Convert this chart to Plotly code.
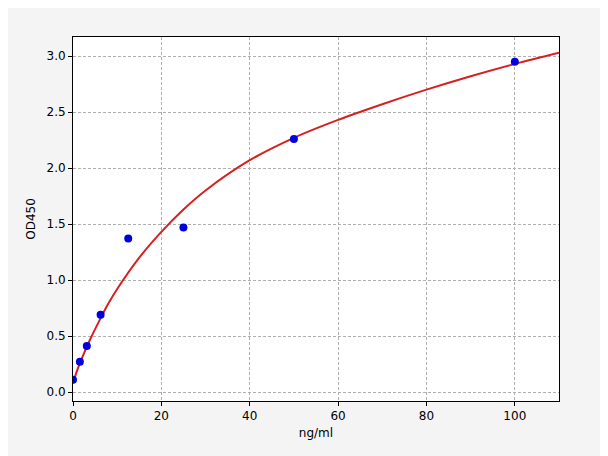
import plotly.graph_objects as go

conc = [0, 1.56, 3.125, 6.25, 12.5, 25, 50, 100]
od = [0.11, 0.27, 0.41, 0.69, 1.37, 1.47, 2.26, 2.95]

curve_x = [0, 1, 2, 4, 6, 8, 10, 15, 20, 25, 30, 40, 50, 60, 70, 80, 90, 100, 110]
curve_y = [0.08, 0.2, 0.3, 0.48, 0.64, 0.79, 0.92, 1.2, 1.43, 1.63, 1.8, 2.07, 2.27, 2.43, 2.57, 2.7, 2.82, 2.93, 3.03]

fig = go.Figure()
fig.add_trace(go.Scatter(x=curve_x, y=curve_y, mode="lines", line=dict(color="#d62020", width=2, shape="spline"), showlegend=False))
fig.add_trace(go.Scatter(x=conc, y=od, mode="markers", marker=dict(color="#0000dd", size=8), showlegend=False))

axis_common = dict(showline=True, mirror=True, linecolor="black", linewidth=1,
                   gridcolor="#b0b0b0", griddash="3px,2px", gridwidth=1, zeroline=False,
                   ticks="outside", ticklen=4, tickcolor="black",
                   tickfont=dict(family="DejaVu Sans", size=12, color="black"))
fig.update_xaxes(range=[0, 110], tickvals=[0, 20, 40, 60, 80, 100],
                 title=dict(text="ng/ml", font=dict(family="DejaVu Sans", size=12, color="black"), standoff=6), **axis_common)
fig.update_yaxes(range=[-0.08, 3.17], tickvals=[0, 0.5, 1, 1.5, 2, 2.5, 3], ticktext=["0.0","0.5","1.0","1.5","2.0","2.5","3.0"],
                 title=dict(text="OD450", font=dict(family="DejaVu Sans", size=12, color="black"), standoff=8), **axis_common)
fig.update_layout(width=608, height=456, paper_bgcolor="#f4f4f4", plot_bgcolor="white",
                  margin=dict(l=65, r=57, t=29, b=63))
fig.write_html("out.html")
